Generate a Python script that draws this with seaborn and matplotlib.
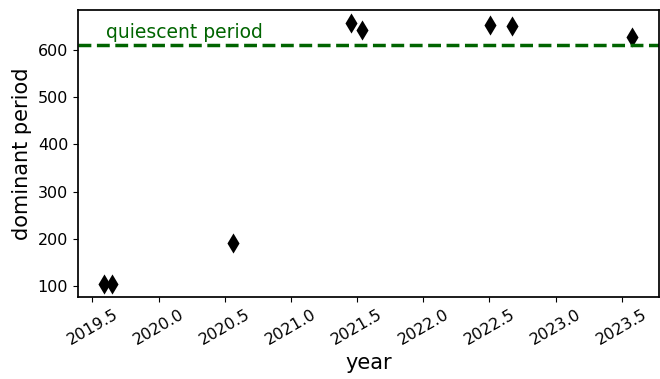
import matplotlib
matplotlib.use("Agg")
import matplotlib.pyplot as plt
import seaborn as sns
import pandas as pd

# Observation epochs (decimal year) and their dominant period
years = [2019.59, 2019.645, 2020.563, 2021.453, 2021.535, 2022.503, 2022.673, 2023.579]
periods = [104, 104, 190, 657.5, 643, 652.5, 652, 628]
quiescent_period = 610
quiescent_label = "quiescent period"

df = pd.DataFrame({"year": years, "dominant period": periods})

sns.set_theme(style="ticks")
plt.rcParams["font.family"] = ["DejaVu Sans"]
plt.rcParams["text.color"] = "black"
plt.rcParams["axes.labelcolor"] = "black"
plt.rcParams["xtick.color"] = "black"
plt.rcParams["ytick.color"] = "black"

fig, ax = plt.subplots(figsize=(6.6, 3.79), dpi=100)
sns.scatterplot(data=df, x="year", y="dominant period", marker="d",
                color="black", s=105, edgecolor="black", linewidth=0, ax=ax)
ax.axhline(quiescent_period, color="darkgreen", linestyle="--", linewidth=2.5)
ax.text(2019.6, quiescent_period + 16, quiescent_label, color="darkgreen", fontsize=13.5)

ax.set_xlabel("year", fontsize=15)
ax.set_ylabel("dominant period", fontsize=15)
ax.tick_params(axis="both", labelsize=11.5, direction="out", length=3.5, width=0.8)
plt.setp(ax.get_xticklabels(), rotation=30)
for sp in ax.spines.values():
    sp.set_visible(True)
    sp.set_color("black")

fig.subplots_adjust(left=0.118, right=0.998, top=0.974, bottom=0.216)
fig.savefig("out.png", dpi=100)
